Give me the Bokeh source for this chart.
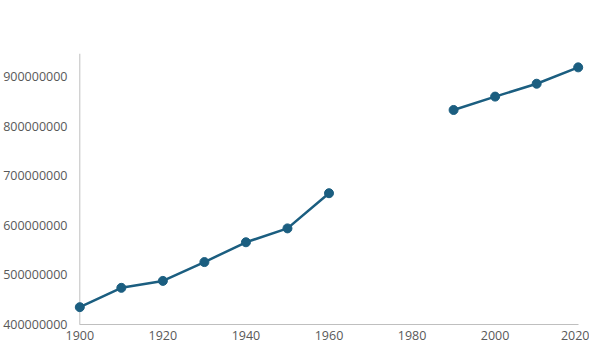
import math
from bokeh.plotting import figure
from bokeh.models import FixedTicker, NumeralTickFormatter, Span, Range1d, ColumnDataSource, Label
from bokeh.embed import file_html
from bokeh.resources import INLINE

# ---- data ----
years = [1900, 1910, 1920, 1930, 1940, 1950, 1960, 1970, 1980, 1990, 2000, 2010, 2020]
population = [435e6, 474e6, 488e6, 526e6, 566e6, 594e6, 665e6,
              math.nan, math.nan, 833e6, 860e6, 886e6, 919e6]
x_tick_values = [1900, 1920, 1940, 1960, 1980, 2000, 2020]
y_tick_values = [400e6, 500e6, 600e6, 700e6, 800e6, 900e6]
title_text = "Population Growth by World Region, 1900\u20132020"

LINE_COLOR = "#1b5e80"
AXIS_COLOR = "#bfbfbf"
TEXT_COLOR = "#595959"
FONT = "Open Sans"
W, H = 589, 347
BL, BR, BT, BB = 71, 3, 53, 23

src = ColumnDataSource(dict(year=years, pop=population))

p = figure(width=W, height=H, output_backend="svg", toolbar_location=None,
           x_range=Range1d(1898, 2022), y_range=Range1d(400e6, 947e6),
           min_border_left=BL, min_border_right=BR, min_border_top=BT, min_border_bottom=BB)

# screen units are relative to the frame's bottom-left corner
frame_h = H - BT - BB
title = Label(x=302.5 - BL, y=frame_h + BT - 20, x_units="screen", y_units="screen",
              text=title_text, text_align="center", text_baseline="middle",
              text_font="Roboto", text_font_size="18px", text_font_style="bold",
              text_color=TEXT_COLOR)
p.add_layout(title)

p.line("year", "pop", source=src, line_color=LINE_COLOR, line_width=2.5)
p.scatter("year", "pop", source=src, size=9, fill_color=LINE_COLOR, line_color=LINE_COLOR)

p.outline_line_color = None
p.grid.visible = False
p.background_fill_color = "white"
p.border_fill_color = "white"

p.xaxis.ticker = FixedTicker(ticks=x_tick_values)
p.xaxis.bounds = (x_tick_values[0], x_tick_values[-1])
p.yaxis.ticker = FixedTicker(ticks=y_tick_values)
p.yaxis.formatter = NumeralTickFormatter(format="0")

for ax in (p.xaxis[0], p.yaxis[0]):
    ax.axis_label = None
    ax.major_tick_line_color = None
    ax.major_tick_out = 0
    ax.major_tick_in = 0
    ax.minor_tick_line_color = None
    ax.minor_tick_out = 0
    ax.major_label_text_font = FONT
    ax.major_label_text_font_size = "12.5px"
    ax.major_label_text_color = TEXT_COLOR
p.xaxis.axis_line_color = AXIS_COLOR
p.xaxis.major_label_standoff = 6
p.yaxis.axis_line_color = None
p.yaxis.major_label_standoff = 4

p.add_layout(Span(location=x_tick_values[0], dimension="height",
                  line_color=AXIS_COLOR, line_width=1, level="underlay"))

open("out.html", "w").write(file_html(p, INLINE))
